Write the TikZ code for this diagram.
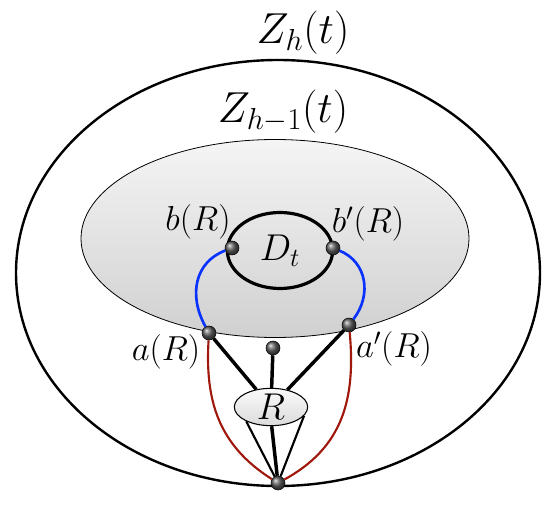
\documentclass[tikz,border=0pt]{standalone}
\usepackage{fix-cm}
\usepackage{xcolor}
\usepackage{tikz}
\usetikzlibrary{shapes.geometric}
\definecolor{pathblue}{HTML}{0A33FF}
\definecolor{pathred}{HTML}{A0180C}
\definecolor{regiongray}{HTML}{D0D0D0}
\tikzset{
  region/.style={draw=black, line width=0.6pt, top color=gray!8, bottom color=regiongray},
  outerline/.style={draw=black, line width=1.8pt},
  dot/.style={circle, draw=black, line width=0.4pt, inner sep=0pt, minimum size=10.5pt, ball color=gray!75!black},
  lbl/.style={font=\fontsize{26}{30}\selectfont, inner sep=0pt},
  biglbl/.style={font=\fontsize{28}{32}\selectfont, inner sep=0pt},
  toplbl/.style={font=\fontsize{32.5}{36}\selectfont, inner sep=0pt},
  bluepath/.style={draw=pathblue, line width=2pt},
  redpath/.style={draw=pathred, line width=1.6pt},
  edge/.style={draw=black, line width=2.6pt},
  thinedge/.style={draw=black, line width=1.6pt}
}

\begin{document}
\begin{tikzpicture}[x=0.75pt,y=-0.75pt]
  \path[use as bounding box] (0,0) rectangle (558,510);

  \draw[outerline] (278,273) ellipse (262 and 213);
  \path[region] (275,238.5) ellipse (194 and 99);

  \node[toplbl] (zh) at (303,33) {$Z_h(t)$};
  \node[toplbl] (zh1) at (283,112) {$Z_{h-1}(t)$};

  \node[biglbl, ellipse, draw, line width=2.4pt, minimum width=79pt, minimum height=57pt] (dt) at (280,250.5) {$D_t$};
  \node[biglbl, ellipse, draw, line width=0.8pt, top color=gray!4, bottom color=gray!28,
        minimum width=55pt, minimum height=28pt] (r) at (271,407) {$R$};

  \node[dot] (b) at (232,248) {};
  \node[dot] (bp) at (333,248) {};
  \node[dot] (a) at (209,333) {};
  \node[dot] (ap) at (349,325) {};
  \node[dot] (m) at (273,348) {};
  \node[dot] (bot) at (278,483) {};

  \node[lbl] (blab) at (198,222) {$b(R)$};
  \node[lbl] (bplab) at (368,224) {$b'(R)$};
  \node[lbl] (alab) at (166,352) {$a(R)$};
  \node[lbl] (aplab) at (394,349) {$a'(R)$};

  % connectors
  \draw[bluepath] (b) .. controls (195,262) and (188,295) .. (a);
  \draw[bluepath] (bp) .. controls (367,262) and (372,295) .. (ap);
  \draw[redpath] (a) .. controls (205,400) and (218,445) .. (bot);
  \draw[redpath] (ap) .. controls (356,400) and (342,448) .. (bot);
  \draw[edge] (a) -- (r);
  \draw[edge] (m) -- (r);
  \draw[edge] (ap) -- (r);
  \draw[thinedge] (r.-150) -- (bot);
  \draw[edge] (r.-88) -- (bot);
  \draw[thinedge] (r.-15) -- (bot);
\end{tikzpicture}
\end{document}
